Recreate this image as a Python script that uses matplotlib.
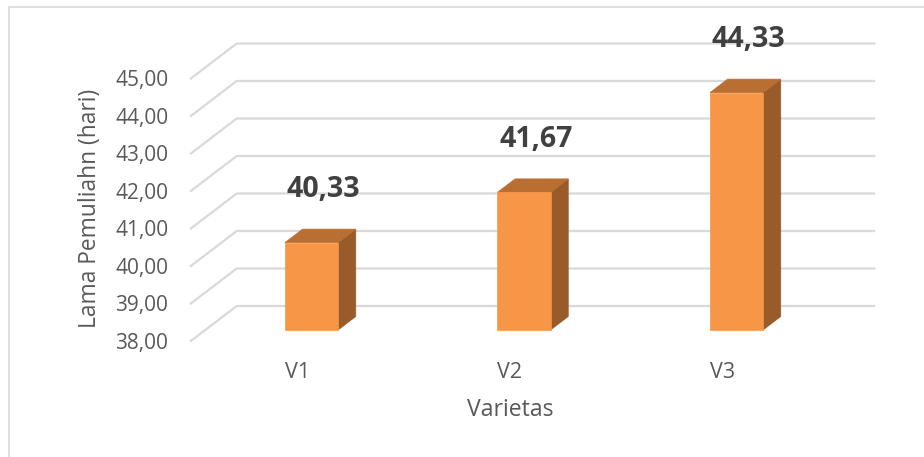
import matplotlib
matplotlib.use("Agg")
import matplotlib.pyplot as plt
from matplotlib.patches import Polygon, Rectangle
from matplotlib.transforms import IdentityTransform, ScaledTranslation
import numpy as np

categories = ["V1", "V2", "V3"]
values = [40.33, 41.67, 44.33]
value_labels = ["40,33", "41,67", "44,33"]
y_ticks = [38, 39, 40, 41, 42, 43, 44, 45]
y_tick_labels = ["38,00", "39,00", "40,00", "41,00", "42,00", "43,00", "44,00", "45,00"]
x_title = "Varietas"
y_title = "Lama Pemuliahn (hari)"

W, H, DPI = 924, 457, 100
fig = plt.figure(figsize=(W / DPI, H / DPI), dpi=DPI)
plt.rcParams['font.family'] = ['Open Sans', 'DejaVu Sans']

# axes placement in pixels (left, top, right, bottom)
L, T, R, B = 178, 20, 900, 345
ax = fig.add_axes([L / W, 1 - B / H, (R - L) / W, (B - T) / H])
ax.set_facecolor('none')
# x: category spacing 212.5 px, first bar centre at 311.5 px
ax.set_xlim((L - 311.5) / 212.5, (R - 311.5) / 212.5)
ax.set_ylim(38 + (330 - B) / 37.5, 38 + (330 - T) / 37.5)
for s in ax.spines.values():
    s.set_visible(False)

# depth direction (display px per 1 px of vertical depth)
DX = 1.31

def P(x, v, z):
    px, py = ax.transData.transform((x, v))
    return (px + DX * z, py + z)

Z_FRONT, Z_BACK, Z_BAR = -11, 24, 13.5
grid_c = '#D9D9D9'
x0, x1 = -0.5, len(categories) - 0.5
for v in y_ticks:
    a = P(x0, v, Z_FRONT); b = P(x0, v, Z_BACK); c = P(x1, v, Z_BACK)
    ax.add_line(plt.Line2D([a[0], b[0], c[0]], [a[1], b[1], c[1]],
                           transform=IdentityTransform(), color=grid_c, lw=1.6,
                           zorder=1))

bw = 0.25
front_c, top_c, side_c = '#F79646', '#B96F32', '#9A5B2A'
for i, v in enumerate(values):
    xl, xr = i - bw / 2, i + bw / 2
    front = [P(xl, 38, 0), P(xr, 38, 0), P(xr, v, 0), P(xl, v, 0)]
    side = [P(xr, 38, 0), P(xr, 38, Z_BAR), P(xr, v, Z_BAR), P(xr, v, 0)]
    top = [P(xl, v, 0), P(xr, v, 0), P(xr, v, Z_BAR), P(xl, v, Z_BAR)]
    for pts, col in ((side, side_c), (top, top_c), (front, front_c)):
        ax.add_patch(Polygon(pts, closed=True, transform=IdentityTransform(),
                             facecolor=col, edgecolor=col, lw=0.5, zorder=3))
    ax.text(i, v, value_labels[i], ha='center', va='center', fontsize=20.5,
            fontweight='bold', color='#404040',
            transform=ax.transData + ScaledTranslation(12 / DPI, 53 / DPI, fig.dpi_scale_trans),
            zorder=4)

# y ticks
ax.set_yticks(y_ticks)
ax.set_yticklabels(y_tick_labels)
ax.tick_params(axis='y', length=0, pad=7.0, labelsize=15, labelcolor='#595959')
for lab in ax.get_yticklabels():
    lab.set_transform(lab.get_transform() + ScaledTranslation(0, -11 / DPI, fig.dpi_scale_trans))

# x ticks
ax.set_xticks(range(len(categories)))
ax.set_xticklabels(categories)
ax.tick_params(axis='x', length=0, pad=12.5, labelsize=15.5, labelcolor='#595959')
for lab in ax.get_xticklabels():
    lab.set_transform(lab.get_transform() + ScaledTranslation(-14.4 / DPI, 0, fig.dpi_scale_trans))

# axis titles
ax.set_ylabel(y_title, fontsize=16.4, color='#595959')
ax.yaxis.label.set(va='center', ha='center', rotation_mode='default')
ax.yaxis.set_label_coords((90 - L) / (R - L), (B - 208) / (B - T))
ax.set_xlabel(x_title, fontsize=16.6, color='#595959')
ax.xaxis.label.set(va='center', ha='center')
ax.xaxis.set_label_coords((510 - L) / (R - L), (B - 410) / (B - T))

# chart-area border (cropped)
fig.add_artist(Rectangle((9 / W, -0.1), 1.2, 1 - 7 / H + 0.1, transform=fig.transFigure,
                         fill=False, edgecolor='#D9D9D9', lw=1.2))

fig.savefig("out.png", dpi=DPI)
